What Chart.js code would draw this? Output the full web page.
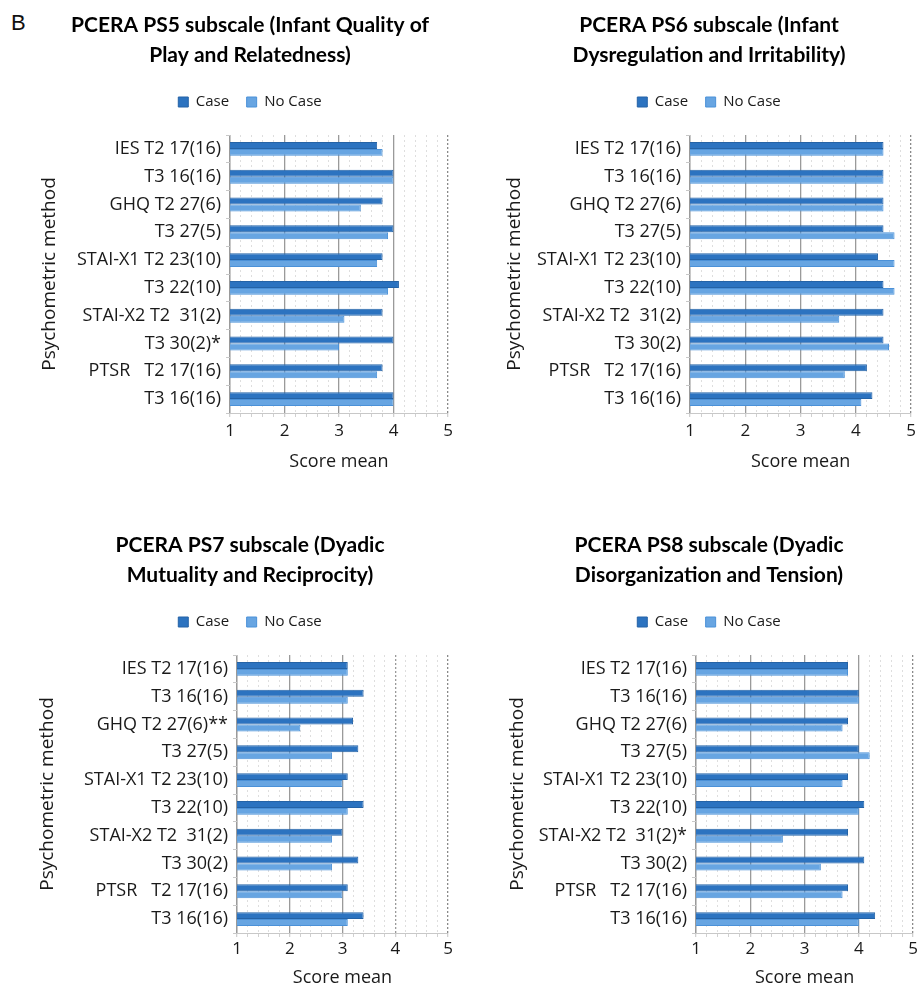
<!DOCTYPE html>
<html>
<head>
<meta charset="utf-8">
<script src="https://cdn.jsdelivr.net/npm/chart.js@4.4.1/dist/chart.umd.min.js"></script>
<style>
  html, body { margin: 0; padding: 0; background: #fff; }
  body { width: 920px; height: 985px; position: relative; overflow: hidden; }
  .panel { position: absolute; }
  #label-b { position: absolute; left: 11px; top: 12px; font-family: "Liberation Sans", Arial, sans-serif; font-size: 22px; line-height: 1; color: #111; }
</style>
</head>
<body>
<div id="label-b">B</div>
<div class="panel" id="p1" style="left:0px;top:0px;width:460px;height:480px;"><canvas id="c1"></canvas></div>
<div class="panel" id="p2" style="left:460px;top:0px;width:460px;height:480px;"><canvas id="c2"></canvas></div>
<div class="panel" id="p3" style="left:0px;top:520px;width:460px;height:480px;"><canvas id="c3"></canvas></div>
<div class="panel" id="p4" style="left:460px;top:520px;width:460px;height:480px;"><canvas id="c4"></canvas></div>
<script>
// ---------------- DATA ----------------
const seriesNames = ['Case', 'No Case'];
const xTickValues = [1, 2, 3, 4, 5];

const ps5Labels = ['IES T2 17(16)', 'T3 16(16)', 'GHQ T2 27(6)', 'T3 27(5)', 'STAI-X1 T2 23(10)', 'T3 22(10)', 'STAI-X2 T2  31(2)', 'T3 30(2)*', 'PTSR   T2 17(16)', 'T3 16(16)'];
const ps6Labels = ['IES T2 17(16)', 'T3 16(16)', 'GHQ T2 27(6)', 'T3 27(5)', 'STAI-X1 T2 23(10)', 'T3 22(10)', 'STAI-X2 T2  31(2)', 'T3 30(2)', 'PTSR   T2 17(16)', 'T3 16(16)'];
const ps7Labels = ['IES T2 17(16)', 'T3 16(16)', 'GHQ T2 27(6)**', 'T3 27(5)', 'STAI-X1 T2 23(10)', 'T3 22(10)', 'STAI-X2 T2  31(2)', 'T3 30(2)', 'PTSR   T2 17(16)', 'T3 16(16)'];
const ps8Labels = ['IES T2 17(16)', 'T3 16(16)', 'GHQ T2 27(6)', 'T3 27(5)', 'STAI-X1 T2 23(10)', 'T3 22(10)', 'STAI-X2 T2  31(2)*', 'T3 30(2)', 'PTSR   T2 17(16)', 'T3 16(16)'];

const ps5Case   = [3.7, 4.0, 3.8, 4.0, 3.8, 4.1, 3.8, 4.0, 3.8, 4.0];
const ps5NoCase = [3.8, 4.0, 3.4, 3.9, 3.7, 3.9, 3.1, 3.0, 3.7, 4.0];
const ps6Case   = [4.5, 4.5, 4.5, 4.5, 4.4, 4.5, 4.5, 4.5, 4.2, 4.3];
const ps6NoCase = [4.5, 4.5, 4.5, 4.7, 4.7, 4.7, 3.7, 4.6, 3.8, 4.1];
const ps7Case   = [3.1, 3.4, 3.2, 3.3, 3.1, 3.4, 3.0, 3.3, 3.1, 3.4];
const ps7NoCase = [3.1, 3.1, 2.2, 2.8, 3.0, 3.1, 2.8, 2.8, 3.0, 3.1];
const ps8Case   = [3.8, 4.0, 3.8, 4.0, 3.8, 4.1, 3.8, 4.1, 3.8, 4.3];
const ps8NoCase = [3.8, 4.0, 3.7, 4.2, 3.7, 4.0, 2.6, 3.3, 3.7, 4.0];

const ps5Title = ['PCERA PS5 subscale (Infant Quality of', 'Play and Relatedness)'];
const ps6Title = ['PCERA PS6 subscale (Infant', 'Dysregulation and Irritability)'];
const ps7Title = ['PCERA PS7 subscale (Dyadic', 'Mutuality and Reciprocity)'];
const ps8Title = ['PCERA PS8 subscale (Dyadic', 'Disorganization and Tension)'];

const yAxisTitle = 'Psychometric method';
const xAxisTitle = 'Score mean';

// ---------------- STYLE ----------------
const TITLE_FONT = 'Lato, "Open Sans", sans-serif';
const FONT = '"Open Sans", Lato, sans-serif';
const caseFill = '#2c73c0';
const caseBorder = '#2563a6';
const noCaseFill = '#67a5e2';
const noCaseBorder = '#4b91d8';

const legendGap = {
  id: 'legendGap',
  beforeInit(chart) {
    if (!chart.legend) return;
    const orig = chart.legend.fit;
    chart.legend.fit = function () {
      orig.call(this);
      this.height += 15.5;
    };
  }
};

function isInt(v) { return Math.abs(v - Math.round(v)) < 1e-6; }

function makeChart(id, title, labels, caseVals, noCaseVals, lay) {
  const ctx = document.getElementById(id);
  return new Chart(ctx, {
    type: 'bar',
    data: {
      labels: labels,
      datasets: [
        { label: seriesNames[0], data: caseVals, backgroundColor: caseFill, borderColor: caseBorder, borderWidth: 1 },
        { label: seriesNames[1], data: noCaseVals, backgroundColor: noCaseFill, borderColor: noCaseBorder, borderWidth: 1 }
      ]
    },
    plugins: [legendGap],
    options: {
      indexAxis: 'y',
      responsive: true,
      maintainAspectRatio: false,
      animation: false,
      datasets: { bar: { categoryPercentage: 0.5, barPercentage: 1.0 } },
      layout: { padding: { left: lay.L, right: lay.R, top: 0, bottom: 15 } },
      plugins: {
        title: {
          display: true,
          text: title,
          color: '#000',
          font: { family: TITLE_FONT, size: 21, weight: 'bold', lineHeight: 30 / 21 },
          padding: { top: 10, bottom: 7 }
        },
        legend: {
          display: true,
          labels: { boxWidth: 10, boxHeight: 10, color: '#1a1a1a', font: { family: FONT, size: 15 }, padding: 17.5 }
        },
        tooltip: { enabled: false }
      },
      scales: {
        x: {
          type: 'linear',
          min: xTickValues[0],
          max: xTickValues[xTickValues.length - 1],
          afterBuildTicks(scale) {
            const t = [];
            for (let i = 0; i <= 20; i++) t.push({ value: +(1 + i * 0.2).toFixed(1) });
            scale.ticks = t;
          },
          afterFit(scale) { scale.height = 52; },
          ticks: {
            autoSkip: false,
            maxRotation: 0,
            padding: lay.tp,
            color: '#1a1a1a',
            font: { family: FONT, size: 17 },
            callback(v) { return isInt(v) && xTickValues.includes(Math.round(v)) ? String(Math.round(v)) : ''; }
          },
          grid: {
            drawTicks: true,
            tickLength: 4,
            color(c) {
              if (!c.tick) return '#ccc';
              const v = c.tick.value;
              if (isInt(v)) return v === 5 ? '#8a8a8a' : '#9a9a9a';
              return '#dedede';
            },
            lineWidth(c) {
              if (!c.tick) return 1;
              return isInt(c.tick.value) ? 1.3 : 1;
            },
            tickColor: '#d0d0d0'
          },
          border: {
            display: true,
            color: '#c8c8c8',
            dash(c) {
              if (!c.tick) return [];
              const v = c.tick.value;
              if (isInt(v)) return (v === 5 || (lay.dash4 && v === 4)) ? [2, 2] : [];
              return [2, 3];
            }
          },
          title: {
            display: true,
            text: xAxisTitle,
            color: '#1a1a1a',
            font: { family: FONT, size: 18 },
            padding: { top: 0, bottom: lay.xb }
          }
        },
        y: {
          afterFit(scale) { scale.width = lay.yW; },
          ticks: {
            color: '#1a1a1a',
            font: { family: FONT, size: 18 },
            padding: 5,
            autoSkip: false
          },
          grid: { drawOnChartArea: false, drawTicks: true, tickLength: 4, color: '#c8c8c8', offset: true },
          border: { display: true, color: '#c8c8c8' },
          title: {
            display: true,
            text: yAxisTitle,
            color: '#1a1a1a',
            font: { family: FONT, size: 19 },
            padding: { top: lay.yT, bottom: 0 }
          }
        }
      }
    }
  });
}

makeChart('c1', ps5Title, ps5Labels, ps5Case, ps5NoCase, { L: 52, R: 12, yW: 178, yT: -13.4, tp: 4, xb: -7.5 });
makeChart('c2', ps6Title, ps6Labels, ps6Case, ps6NoCase, { L: 44, R: 6, yW: 186, yT: -0.4, tp: 4, xb: -7.5 });
makeChart('c3', ps7Title, ps7Labels, ps7Case, ps7NoCase, { L: 52, R: 12, yW: 185, yT: -15.4, dash4: true, tp: 2, xb: -4 });
makeChart('c4', ps8Title, ps8Labels, ps8Case, ps8NoCase, { L: 43, R: 5, yW: 193, yT: 3.6, tp: 2, xb: -4 });
</script>
</body>
</html>
